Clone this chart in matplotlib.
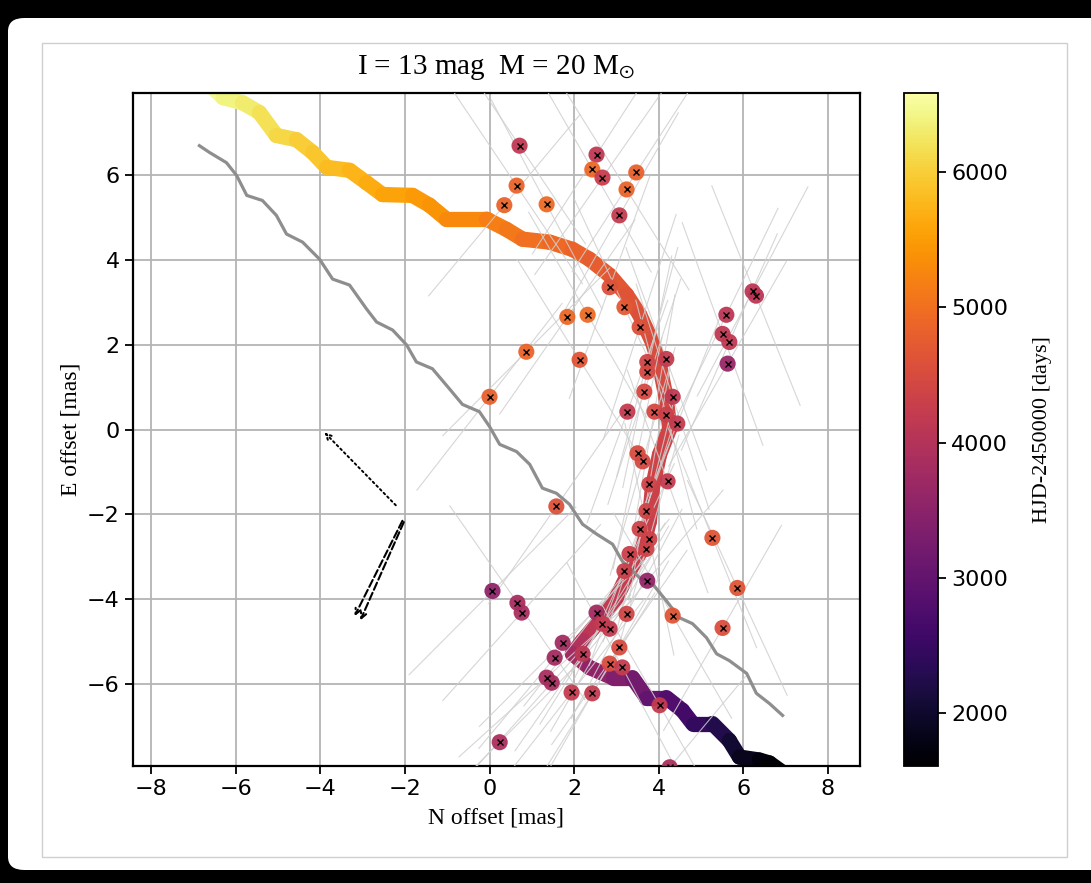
import numpy as np
import matplotlib
matplotlib.use('Agg')
import matplotlib.pyplot as plt
from matplotlib.collections import LineCollection
from matplotlib.patches import FancyBboxPatch, Rectangle
from matplotlib.colors import Normalize
from matplotlib.cm import ScalarMappable

plt.rcParams['mathtext.fontset'] = 'stix'

# ---------------- data ----------------
# source trajectory (coloured by time)
path_x = [-6.50, -6.30, -5.84, -5.44, -5.04, -4.56, -4.18, -3.85, -3.31, -2.91, -2.53, -1.82,
          -1.42, -1.02, -0.07, 0.40, 0.78, 1.42, 1.96, 2.36, 2.84, 3.24, 3.55, 3.85, 4.02,
          4.18, 4.26, 4.02, 3.85, 3.78, 3.62, 3.31, 3.00, 2.60, 2.20, 1.96, 2.36, 2.91, 3.38,
          3.71, 4.18, 4.56, 4.80, 5.27, 5.67, 5.91, 6.38, 6.62, 6.90]
path_y = [8.00, 7.81, 7.69, 7.46, 6.92, 6.82, 6.52, 6.17, 6.10, 5.81, 5.53, 5.51,
          5.28, 4.95, 4.95, 4.71, 4.48, 4.41, 4.24, 4.01, 3.63, 3.17, 2.70, 2.06, 1.52,
          0.73, 0.02, -0.59, -1.38, -2.16, -2.79, -3.33, -3.96, -4.50, -4.97, -5.28, -5.60, -5.84, -5.84,
          -6.31, -6.31, -6.61, -6.92, -6.92, -7.32, -7.71, -7.78, -7.85, -8.05]
path_t = [6560, 6450, 6350, 6250, 6130, 6030, 5950, 5870, 5780, 5700, 5620, 5510,
          5440, 5370, 5210, 5130, 5060, 4960, 4880, 4800, 4720, 4650, 4600, 4550, 4500,
          4450, 4400, 4370, 4340, 4300, 4270, 4240, 4200, 4150, 4050, 3900, 3650, 3450, 3300,
          3100, 2900, 2700, 2550, 2350, 2150, 1950, 1780, 1680, 1620]

# lens trajectory (grey)
lens_x = [-6.86, -6.62, -6.22, -5.98, -5.74, -5.37, -5.04, -4.80, -4.42, -4.02, -3.71, -3.31,
          -2.91, -2.67, -2.29, -1.96, -1.73, -1.35, -0.95, -0.64, -0.24, 0.00, 0.24, 0.64,
          0.95, 1.25, 1.58, 1.89, 2.20, 2.53, 2.91, 3.14, 3.55, 3.85, 4.18, 4.49, 4.80,
          5.13, 5.37, 5.67, 6.08, 6.31, 6.62, 6.93]
lens_y = [6.68, 6.52, 6.28, 5.98, 5.51, 5.39, 5.04, 4.60, 4.41, 4.01, 3.54, 3.40,
          2.84, 2.53, 2.34, 1.99, 1.59, 1.43, 0.96, 0.59, 0.42, 0.07, -0.35, -0.52,
          -0.82, -1.38, -1.50, -1.76, -2.23, -2.46, -2.70, -3.10, -3.49, -3.63, -4.03, -4.43, -4.57,
          -4.90, -5.28, -5.44, -5.74, -6.21, -6.45, -6.73]

# observed positions
obs_x = [0.71, 2.53, 2.43, 2.67, 3.47, 3.24, 0.64, 0.35, 1.35, 3.07,
         1.84, 2.32, 0.87, 2.13, 0.00, 2.84, 3.19, 3.55,
         6.22, 6.30, 5.60, 5.51, 5.67, 5.63,
         3.73, 4.18, 3.73, 3.66, 4.33, 3.26, 3.90, 4.18, 4.44, 3.50, 3.62, 4.21, 3.78, 3.71,
         3.55, 3.78, 3.71,
         1.58, 5.27, 5.86, 5.51, 4.33, 3.73, 3.31, 3.19,
         0.07, 0.66, 0.76, 2.53, 3.24, 2.67, 2.84, 3.07,
         1.73, 1.54, 1.35, 1.47, 2.20, 2.84, 3.14, 1.94, 2.43, 4.02, 0.24, 4.26]
obs_y = [6.68, 6.47, 6.12, 5.93, 6.05, 5.65, 5.74, 5.28, 5.30, 5.04,
         2.65, 2.70, 1.83, 1.64, 0.77, 3.35, 2.88, 2.41,
         3.25, 3.15, 2.70, 2.25, 2.06, 1.55,
         1.59, 1.66, 1.36, 0.89, 0.77, 0.42, 0.42, 0.35, 0.14, -0.56, -0.75, -1.22, -1.29, -1.92,
         -2.34, -2.58, -2.81,
         -1.81, -2.55, -3.73, -4.67, -4.38, -3.56, -2.93, -3.33,
         -3.80, -4.08, -4.31, -4.31, -4.34, -4.57, -4.69, -5.13,
         -5.02, -5.37, -5.84, -5.96, -5.28, -5.51, -5.60, -6.19, -6.21, -6.49, -7.36, -7.95]
obs_t = [4150, 4150, 4900, 4250, 4800, 4850, 4850, 4850, 4950, 4200,
         4900, 4950, 4850, 4650, 4800, 4600, 4700, 4600,
         4100, 4100, 4100, 4150, 4150, 3650,
         4400, 4200, 4450, 4450, 4150, 4200, 4450, 4300, 4200, 4500, 4450, 4200, 4350, 4350,
         4350, 4350, 4350,
         4600, 4650, 4650, 4550, 4650, 3600, 4300, 4300,
         3550, 3850, 3850, 3800, 4400, 4200, 4200, 4500,
         3800, 3800, 3850, 3850, 4100, 4500, 4200, 4200, 4200, 4200, 3900, 3900]
scan_angle = [-56, 57, -60, 55, 57, -58, -56, 50, -62, 60,
              55, -60, 45, -58, 52, 70, -65, 72,
              62, -68, 64, -70, 66, 60,
              75, -70, 78, 72, -72, 70, 80, -75, 68, 78, 74, -70, 80, 76,
              72, -78, 74,
              55, -68, -65, 60, -60, 50, 70, 65,
              45, -55, 48, 52, 62, 58, 60, 55,
              45, 50, 42, 48, 55, 60, -62, 52, 58, -60, 45, 50]
scan_half_length = 2.8

# motion arrows (start x, start y, end x, end y)
dot_arrow = [(-2.17, -1.83, -3.95, -0.02)]
dash_arrows = [(-2.03, -2.09, -3.22, -4.45), (-2.00, -2.12, -3.08, -4.55)]

x_ticks = [-8, -6, -4, -2, 0, 2, 4, 6, 8]
y_ticks = [-6, -4, -2, 0, 2, 4, 6]
cb_ticks = [2000, 3000, 4000, 5000, 6000]
t_min, t_max = 1608, 6585

# ---------------- figure ----------------
W, H = 1091, 883
fig = plt.figure(figsize=(W / 100, H / 100), dpi=100)
fig.patch.set_facecolor('black')

panel = FancyBboxPatch((8 / W, 1 - 870 / H), 1.05, (870 - 18) / H,
                       boxstyle='round,pad=0,rounding_size=0.015',
                       transform=fig.transFigure, facecolor='white', edgecolor='none', zorder=-10)
fig.patches.append(panel)
frame = Rectangle((42 / W, 1 - 857 / H), (1067 - 42) / W, (857 - 43) / H,
                  transform=fig.transFigure, facecolor='white', edgecolor='#cfcfcf', lw=1.0, zorder=-9)
fig.patches.append(frame)

ax = fig.add_axes([133 / W, 1 - 766 / H, (860 - 133) / W, (766 - 93) / H])
cax = fig.add_axes([904 / W, 1 - 766 / H, (938 - 904) / W, (766 - 93) / H])

cmap = plt.get_cmap('inferno')
norm = Normalize(vmin=t_min, vmax=t_max)

ax.set_xlim(-8.43, 8.76)
ax.set_ylim(-7.92, 7.92)
ax.set_axisbelow(True)
ax.grid(True, color='#b4b4b4', lw=1.3)

# coloured source path
px, py, pt = np.array(path_x), np.array(path_y), np.array(path_t)
pts = np.column_stack([px, py]).reshape(-1, 1, 2)
segs = np.concatenate([pts[:-1], pts[1:]], axis=1)
seg_t = 0.5 * (pt[:-1] + pt[1:])
lc = LineCollection(segs, colors=cmap(norm(seg_t)), linewidths=11,
                    capstyle='round', joinstyle='round', zorder=2)
ax.add_collection(lc)

# scan lines
ox, oy = np.array(obs_x), np.array(obs_y)
ang = np.deg2rad(np.array(scan_angle))
dx = scan_half_length * np.cos(ang)
dy = scan_half_length * np.sin(ang)
scan_segs = [[(x - a, y - b), (x + a, y + b)] for x, y, a, b in zip(ox, oy, dx, dy)]
ax.add_collection(LineCollection(scan_segs, colors='#cfcfcf', linewidths=0.8, alpha=0.85, zorder=3))

# lens path
ax.plot(lens_x, lens_y, color='#8e8e8e', lw=2.3, zorder=4, solid_joinstyle='round')

# observed points
ax.scatter(ox, oy, c=obs_t, cmap=cmap, norm=norm, s=135, edgecolors='none', alpha=0.95, zorder=5)
ax.plot(ox, oy, linestyle='none', marker='x', ms=4.5, mew=1.0, color='black', zorder=6)

# arrows
for (x0, y0, x1, y1) in dot_arrow:
    ax.annotate('', xy=(x1, y1), xytext=(x0, y0),
                arrowprops=dict(arrowstyle='->', ls=':', lw=1.4, color='black'), zorder=7)
for (x0, y0, x1, y1) in dash_arrows:
    ax.annotate('', xy=(x1, y1), xytext=(x0, y0),
                arrowprops=dict(arrowstyle='->', ls='--', lw=1.5, color='black'), zorder=7)

ax.set_xticks(x_ticks)
ax.set_yticks(y_ticks)
ax.tick_params(axis='both', labelsize=16, length=6, width=1.3, direction='out')
for s in ax.spines.values():
    s.set_linewidth(1.6)

serif = 'Liberation Serif'
ax.set_xlabel('N offset [mas]', family=serif, fontsize=17, labelpad=6)
ax.set_ylabel('E offset [mas]', family=serif, fontsize=17, labelpad=4)
fig.text(496 / W, 1 - 68 / H, r'I = 13 mag  M = 20 M$_{\odot}$', family=serif, fontsize=21,
         ha='center', va='center')

sm = ScalarMappable(norm=norm, cmap=cmap)
cb = fig.colorbar(sm, cax=cax, ticks=cb_ticks)
cb.ax.tick_params(labelsize=16, length=6, width=1.3)
cb.outline.set_linewidth(1.3)
cb.set_label('HJD-2450000 [days]', family=serif, fontsize=16, labelpad=18)

fig.savefig('out.png', dpi=100, facecolor=fig.get_facecolor())
